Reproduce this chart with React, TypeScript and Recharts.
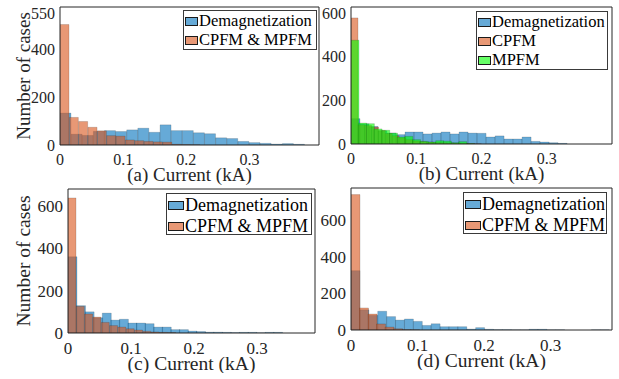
import React from 'react';
import { ComposedChart, Bar, XAxis, YAxis, Legend } from 'recharts';

const FONT = '"Liberation Serif", "Times New Roman", serif';
const INK = '#262626';

// MATLAB default face colours, drawn at FaceAlpha 0.6
const BLUE = '#0072BD';
const ORANGE = '#D95319';
const GREEN = '#00FF00';

const xTicks = [0, 0.1, 0.2, 0.3];
const aYTicks = [0, 200, 400, 550];
const yTicks = [0, 200, 400, 600];

// (a) counts per bin, bin width in kA
const aDemagBin = 0.0176;
const aDemag = [133, 45, 40, 57, 60, 56, 63, 70, 53, 84, 60, 60, 51, 47, 30, 27, 15, 10, 7, 4, 6, 3];
const aFaultBin = 0.0148;
const aFault = [502, 115, 98, 74, 59, 39, 37, 21, 18, 15, 13, 12, 3, 2, 1];

// (b)
const bDemagBin = 0.0138;
const bDemag = [116, 92, 80, 60, 50, 43, 55, 55, 46, 50, 55, 46, 55, 50, 49, 32, 37, 23, 23, 32, 12, 9, 6, 3];
const bCpfmBin = 0.0105;
const bCpfm = [577, 88, 85, 78, 62, 48, 38, 28, 20, 14, 11, 9, 7, 6, 5, 4, 3, 2, 1];
const bMpfmBin = 0.0118;
const bMpfm = [475, 96, 93, 69, 63, 50, 32, 35, 20, 12, 9, 15, 13, 6, 11, 2];

// (c)
const cDemagBin = 0.0136;
const cDemag = [360, 129, 100, 72, 94, 61, 65, 47, 47, 44, 28, 28, 16, 16, 9, 7, 4, 4, 3, 2, 3, 3, 1, 3, 3];
const cFaultBin = 0.0132;
const cFault = [638, 126, 90, 75, 50, 35, 28, 20, 14, 8, 5, 3, 2];

// (d)
const dDemagBin = 0.01337;
const dDemag = [323, 110, 80, 102, 73, 54, 60, 47, 25, 34, 18, 18, 18, 5, 13, 4, 2, 2, 1, 1, 4, 4, 1, 1, 0, 0, 0, 1, 1];
const dFaultBin = 0.0128;
const dFault = [737, 120, 87, 33, 16, 7, 2, 1];

type Series = { name: string; color: string; bin: number; counts: number[] };

type Panel = {
  key: string;
  left: number;
  top: number;
  w: number;
  h: number;
  xMax: number;
  yMax: number;
  yTicks: number[];
  xLabel: string;
  yLabel?: string;
  tickFont: number;
  labelFont: number;
  xLabelOffset: number;
  yLabelOffset: number;
  legend: { x: number; y: number; w: number; h: number; font: number; row: number; sw: number };
  series: Series[];
};

const YW = 66; // y axis band (wide enough to hold the rotated label)
const XH = 40; // x axis band
const PAD = 5;

const panels: Panel[] = [
  {
    key: 'a', left: 60, top: 7, w: 259, h: 138, xMax: 0.41, yMax: 575, yTicks: aYTicks,
    xLabel: '(a) Current (kA)', yLabel: 'Number of cases', tickFont: 16, labelFont: 19,
    xLabelOffset: 4.5, yLabelOffset: 29,
    legend: { x: 183, y: 10, w: 134, h: 40, font: 16.5, row: 19.3, sw: 13 },
    series: [
      { name: 'Demagnetization', color: BLUE, bin: aDemagBin, counts: aDemag },
      { name: 'CPFM & MPFM', color: ORANGE, bin: aFaultBin, counts: aFault },
    ],
  },
  {
    key: 'b', left: 351, top: 7, w: 261, h: 137, xMax: 0.4, yMax: 627, yTicks,
    xLabel: '(b) Current (kA)', tickFont: 16, labelFont: 19,
    xLabelOffset: 4.5, yLabelOffset: 0,
    legend: { x: 476, y: 11, w: 132, h: 59, font: 16.5, row: 19, sw: 13 },
    series: [
      { name: 'Demagnetization', color: BLUE, bin: bDemagBin, counts: bDemag },
      { name: 'CPFM', color: ORANGE, bin: bCpfmBin, counts: bCpfm },
      { name: 'MPFM', color: GREEN, bin: bMpfmBin, counts: bMpfm },
    ],
  },
  {
    key: 'c', left: 68, top: 188.5, w: 247, h: 144, xMax: 0.392, yMax: 680, yTicks,
    xLabel: '(c) Current (kA)', yLabel: 'Number of cases', tickFont: 17, labelFont: 19.5,
    xLabelOffset: 3.5, yLabelOffset: 21.5,
    legend: { x: 166, y: 193, w: 146, h: 42, font: 18, row: 21.5, sw: 16 },
    series: [
      { name: 'Demagnetization', color: BLUE, bin: cDemagBin, counts: cDemag },
      { name: 'CPFM & MPFM', color: ORANGE, bin: cFaultBin, counts: cFault },
    ],
  },
  {
    key: 'd', left: 351, top: 188, w: 261, h: 142, xMax: 0.392, yMax: 773, yTicks,
    xLabel: '(d) Current (kA)', tickFont: 17, labelFont: 19.5,
    xLabelOffset: 3.5, yLabelOffset: 0,
    legend: { x: 463, y: 192, w: 144, h: 42, font: 18, row: 21.5, sw: 16 },
    series: [
      { name: 'Demagnetization', color: BLUE, bin: dDemagBin, counts: dDemag },
      { name: 'CPFM & MPFM', color: ORANGE, bin: dFaultBin, counts: dFault },
    ],
  },
];

function LegendBox({ p }: { p: Panel }) {
  const lg = p.legend;
  return (
    <div
      style={{
        width: lg.w,
        height: lg.h,
        boxSizing: 'border-box',
        border: '1px solid #3a3a3a',
        background: '#fff',
        fontFamily: FONT,
        fontSize: lg.font,
        color: '#000',
        paddingTop: 0.5,
      }}
    >
      {p.series.map((s) => (
        <div key={s.name} style={{ display: 'flex', alignItems: 'center', height: lg.row, whiteSpace: 'nowrap' }}>
          <span
            style={{
              display: 'inline-block',
              width: lg.sw,
              height: 9,
              boxSizing: 'border-box',
              marginLeft: 1,
              marginRight: 1,
              background: s.color + '99',
              border: '1px solid #1a1a1a',
            }}
          />
          <span>{s.name}</span>
        </div>
      ))}
    </div>
  );
}

function Layer({ p, s, frame }: { p: Panel; s: Series; frame: boolean }) {
  const data = s.counts.map((n, i) => ({ x: (i + 0.5) * s.bin, n }));
  const width = p.w + YW + PAD;
  const height = p.h + PAD + XH;
  const left = p.left - YW;
  const top = p.top - PAD;
  const tick = { fill: INK, fontSize: p.tickFont, fontFamily: FONT };
  const xDomain: [number, number] = [0, p.xMax];
  const yDomain: [number, number] = [0, p.yMax];

  return (
    <div style={{ position: 'absolute', left, top }}>
      <ComposedChart
        width={width}
        height={height}
        data={data}
        barCategoryGap={0}
        barGap={0}
        margin={frame ? { top: PAD, right: PAD, left: 0, bottom: 0 } : { top: PAD, right: PAD, left: YW, bottom: XH }}
      >
        <XAxis
          dataKey="x"
          type="number"
          domain={xDomain}
          allowDataOverflow
          ticks={xTicks}
          hide={!frame}
          height={XH}
          tick={tick}
          tickLine={false}
          tickSize={6}
          tickMargin={3}
          axisLine={{ stroke: INK }}
          label={{
            value: p.xLabel,
            position: 'insideBottom',
            offset: p.xLabelOffset,
            fill: INK,
            fontSize: p.labelFont,
            fontFamily: FONT,
          }}
        />
        <YAxis
          type="number"
          domain={yDomain}
          allowDataOverflow
          ticks={p.yTicks}
          hide={!frame}
          width={YW}
          tick={tick}
          tickLine={false}
          tickSize={3}
          tickMargin={2}
          axisLine={{ stroke: INK }}
          label={
            p.yLabel
              ? {
                  value: p.yLabel,
                  angle: -90,
                  position: 'insideLeft',
                  offset: p.yLabelOffset,
                  fill: INK,
                  fontSize: p.labelFont,
                  fontFamily: FONT,
                  style: { textAnchor: 'middle' },
                }
              : undefined
          }
        />
        {frame && (
          <XAxis xAxisId="top" orientation="top" mirror type="number" domain={xDomain} allowDataOverflow
            ticks={xTicks} tick={false} tickSize={3} tickLine={{ stroke: INK }} axisLine={{ stroke: INK }} />
        )}
        {frame && (
          <XAxis xAxisId="inb" orientation="bottom" mirror type="number" domain={xDomain} allowDataOverflow
            ticks={xTicks} tick={false} tickSize={3} tickLine={{ stroke: INK }} axisLine={false} />
        )}
        {frame && (
          <YAxis yAxisId="right" orientation="right" mirror type="number" domain={yDomain} allowDataOverflow
            ticks={p.yTicks} tick={false} tickSize={3} tickLine={{ stroke: INK }} axisLine={{ stroke: INK }} />
        )}
        {frame && (
          <YAxis yAxisId="inl" orientation="left" mirror type="number" domain={yDomain} allowDataOverflow
            ticks={p.yTicks} tick={false} tickSize={3} tickLine={{ stroke: INK }} axisLine={false} />
        )}
        <Bar
          dataKey="n"
          name={s.name}
          fill={s.color}
          fillOpacity={0.6}
          stroke="#000"
          strokeOpacity={0.18}
          strokeWidth={0.8}
          isAnimationActive={false}
        />
        {frame && (
          <Legend
            layout="vertical"
            align="center"
            verticalAlign="middle"
            wrapperStyle={{ left: p.legend.x - left, top: p.legend.y - top, width: p.legend.w, height: p.legend.h }}
            content={() => <LegendBox p={p} />}
          />
        )}
      </ComposedChart>
    </div>
  );
}

export default function App() {
  return (
    <div style={{ position: 'absolute', left: 0, top: 0, width: 619, height: 379, background: '#fff', overflow: 'hidden' }}>
      {panels.map((p) =>
        p.series.map((s, i) => (
          <Layer key={p.key + i} p={p} s={s} frame={i === p.series.length - 1} />
        ))
      )}
    </div>
  );
}
